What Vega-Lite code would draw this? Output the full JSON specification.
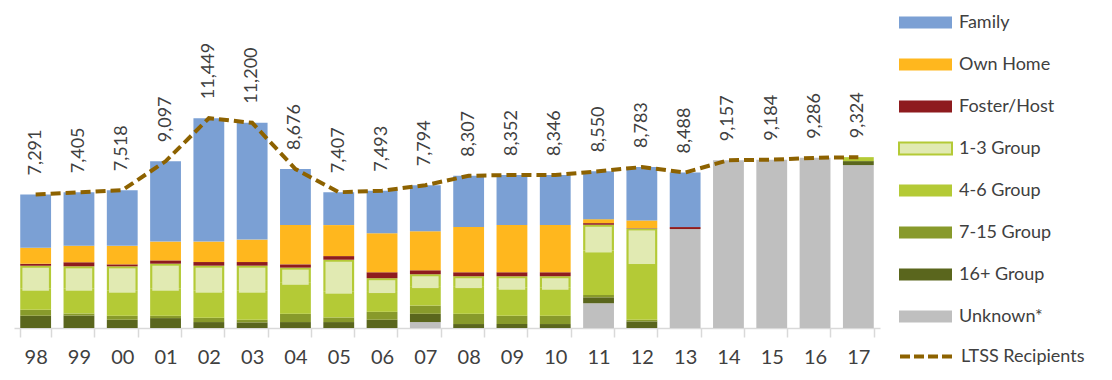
{
  "$schema": "https://vega.github.io/schema/vega-lite/v6.json",
  "width": 866,
  "height": 328,
  "autosize": "none",
  "padding": {"left": 14, "top": 0, "right": 232, "bottom": 52},
  "background": "white",
  "config": {"view": {"stroke": null}, "font": "Lato"},
  "datasets": {
    "bars": [
      {"year": "98", "category": "16+ Group", "value": 666},
      {"year": "98", "category": "7-15 Group", "value": 324},
      {"year": "98", "category": "4-6 Group", "value": 1152},
      {"year": "98", "category": "1-3 Group", "value": 1260},
      {"year": "98", "category": "Foster/Host", "value": 108},
      {"year": "98", "category": "Own Home", "value": 864},
      {"year": "98", "category": "Family", "value": 2917},
      {"year": "99", "category": "16+ Group", "value": 684},
      {"year": "99", "category": "7-15 Group", "value": 108},
      {"year": "99", "category": "4-6 Group", "value": 1350},
      {"year": "99", "category": "1-3 Group", "value": 1224},
      {"year": "99", "category": "Foster/Host", "value": 216},
      {"year": "99", "category": "Own Home", "value": 900},
      {"year": "99", "category": "Family", "value": 2923},
      {"year": "00", "category": "16+ Group", "value": 450},
      {"year": "00", "category": "7-15 Group", "value": 216},
      {"year": "00", "category": "4-6 Group", "value": 1368},
      {"year": "00", "category": "1-3 Group", "value": 1332},
      {"year": "00", "category": "Foster/Host", "value": 108},
      {"year": "00", "category": "Own Home", "value": 1008},
      {"year": "00", "category": "Family", "value": 3036},
      {"year": "01", "category": "16+ Group", "value": 540},
      {"year": "01", "category": "7-15 Group", "value": 126},
      {"year": "01", "category": "4-6 Group", "value": 1476},
      {"year": "01", "category": "1-3 Group", "value": 1368},
      {"year": "01", "category": "Foster/Host", "value": 180},
      {"year": "01", "category": "Own Home", "value": 1026},
      {"year": "01", "category": "Family", "value": 4381},
      {"year": "02", "category": "16+ Group", "value": 324},
      {"year": "02", "category": "7-15 Group", "value": 234},
      {"year": "02", "category": "4-6 Group", "value": 1476},
      {"year": "02", "category": "1-3 Group", "value": 1368},
      {"year": "02", "category": "Foster/Host", "value": 198},
      {"year": "02", "category": "Own Home", "value": 1116},
      {"year": "02", "category": "Family", "value": 6733},
      {"year": "03", "category": "16+ Group", "value": 306},
      {"year": "03", "category": "7-15 Group", "value": 144},
      {"year": "03", "category": "4-6 Group", "value": 1584},
      {"year": "03", "category": "1-3 Group", "value": 1368},
      {"year": "03", "category": "Foster/Host", "value": 198},
      {"year": "03", "category": "Own Home", "value": 1224},
      {"year": "03", "category": "Family", "value": 6376},
      {"year": "04", "category": "16+ Group", "value": 324},
      {"year": "04", "category": "7-15 Group", "value": 450},
      {"year": "04", "category": "4-6 Group", "value": 1692},
      {"year": "04", "category": "1-3 Group", "value": 828},
      {"year": "04", "category": "Foster/Host", "value": 180},
      {"year": "04", "category": "Own Home", "value": 2142},
      {"year": "04", "category": "Family", "value": 3060},
      {"year": "05", "category": "16+ Group", "value": 324},
      {"year": "05", "category": "7-15 Group", "value": 252},
      {"year": "05", "category": "4-6 Group", "value": 1404},
      {"year": "05", "category": "1-3 Group", "value": 1746},
      {"year": "05", "category": "Foster/Host", "value": 198},
      {"year": "05", "category": "Own Home", "value": 1692},
      {"year": "05", "category": "Family", "value": 1791},
      {"year": "06", "category": "16+ Group", "value": 450},
      {"year": "06", "category": "7-15 Group", "value": 432},
      {"year": "06", "category": "4-6 Group", "value": 1134},
      {"year": "06", "category": "1-3 Group", "value": 702},
      {"year": "06", "category": "Foster/Host", "value": 324},
      {"year": "06", "category": "Own Home", "value": 2124},
      {"year": "06", "category": "Family", "value": 2327},
      {"year": "07", "category": "Unknown*", "value": 324},
      {"year": "07", "category": "16+ Group", "value": 450},
      {"year": "07", "category": "7-15 Group", "value": 450},
      {"year": "07", "category": "4-6 Group", "value": 1062},
      {"year": "07", "category": "1-3 Group", "value": 648},
      {"year": "07", "category": "Foster/Host", "value": 216},
      {"year": "07", "category": "Own Home", "value": 2124},
      {"year": "07", "category": "Family", "value": 2520},
      {"year": "08", "category": "16+ Group", "value": 216},
      {"year": "08", "category": "7-15 Group", "value": 558},
      {"year": "08", "category": "4-6 Group", "value": 1512},
      {"year": "08", "category": "1-3 Group", "value": 540},
      {"year": "08", "category": "Foster/Host", "value": 216},
      {"year": "08", "category": "Own Home", "value": 2466},
      {"year": "08", "category": "Family", "value": 2799},
      {"year": "09", "category": "16+ Group", "value": 216},
      {"year": "09", "category": "7-15 Group", "value": 450},
      {"year": "09", "category": "4-6 Group", "value": 1530},
      {"year": "09", "category": "1-3 Group", "value": 630},
      {"year": "09", "category": "Foster/Host", "value": 216},
      {"year": "09", "category": "Own Home", "value": 2574},
      {"year": "09", "category": "Family", "value": 2736},
      {"year": "10", "category": "16+ Group", "value": 216},
      {"year": "10", "category": "7-15 Group", "value": 450},
      {"year": "10", "category": "4-6 Group", "value": 1530},
      {"year": "10", "category": "1-3 Group", "value": 630},
      {"year": "10", "category": "Foster/Host", "value": 216},
      {"year": "10", "category": "Own Home", "value": 2574},
      {"year": "10", "category": "Family", "value": 2730},
      {"year": "11", "category": "Unknown*", "value": 1350},
      {"year": "11", "category": "16+ Group", "value": 324},
      {"year": "11", "category": "7-15 Group", "value": 126},
      {"year": "11", "category": "4-6 Group", "value": 2430},
      {"year": "11", "category": "1-3 Group", "value": 1404},
      {"year": "11", "category": "Foster/Host", "value": 90},
      {"year": "11", "category": "Own Home", "value": 216},
      {"year": "11", "category": "Family", "value": 2610},
      {"year": "12", "category": "16+ Group", "value": 360},
      {"year": "12", "category": "7-15 Group", "value": 90},
      {"year": "12", "category": "4-6 Group", "value": 3150},
      {"year": "12", "category": "1-3 Group", "value": 1836},
      {"year": "12", "category": "Foster/Host", "value": 20},
      {"year": "12", "category": "Own Home", "value": 414},
      {"year": "12", "category": "Family", "value": 2913},
      {"year": "13", "category": "Unknown*", "value": 5400},
      {"year": "13", "category": "Foster/Host", "value": 108},
      {"year": "13", "category": "Family", "value": 2980},
      {"year": "14", "category": "Unknown*", "value": 9157},
      {"year": "15", "category": "Unknown*", "value": 9184},
      {"year": "16", "category": "Unknown*", "value": 9286},
      {"year": "17", "category": "Unknown*", "value": 8892},
      {"year": "17", "category": "16+ Group", "value": 216},
      {"year": "17", "category": "4-6 Group", "value": 216}
    ],
    "totals": [
      {"year": "98", "total": 7291}, {"year": "99", "total": 7405}, {"year": "00", "total": 7518},
      {"year": "01", "total": 9097}, {"year": "02", "total": 11449}, {"year": "03", "total": 11200},
      {"year": "04", "total": 8676}, {"year": "05", "total": 7407}, {"year": "06", "total": 7493},
      {"year": "07", "total": 7794}, {"year": "08", "total": 8307}, {"year": "09", "total": 8352},
      {"year": "10", "total": 8346}, {"year": "11", "total": 8550}, {"year": "12", "total": 8783},
      {"year": "13", "total": 8488}, {"year": "14", "total": 9157}, {"year": "15", "total": 9184},
      {"year": "16", "total": 9286}, {"year": "17", "total": 9324}
    ]
  },
  "layer": [
    {
      "data": {"name": "bars"},
      "transform": [
        {"calculate": "indexof(['Unknown*', '16+ Group', '7-15 Group', '4-6 Group', '1-3 Group', 'Foster/Host', 'Own Home', 'Family'], datum.category)", "as": "stackOrder"}
      ],
      "mark": {"type": "bar"},
      "encoding": {
        "x": {
          "field": "year", "type": "nominal",
          "scale": {"domain": ["98","99","00","01","02","03","04","05","06","07","08","09","10","11","12","13","14","15","16","17"], "paddingInner": 0.288, "paddingOuter": 0.144},
          "axis": {"title": null, "labelAngle": 0, "labelFontSize": 20, "labelColor": "#404040", "domainColor": "#D9D9D9", "domainWidth": 1.5, "tickColor": "#D9D9D9", "tickWidth": 1.5, "tickBand": "extent", "tickSize": 9, "labelPadding": 10}
        },
        "y": {"field": "value", "type": "quantitative", "stack": "zero", "scale": {"domain": [0, 17900], "nice": false}, "axis": null},
        "order": {"field": "stackOrder", "type": "quantitative", "sort": "ascending"},
        "color": {
          "condition": {"test": "datum.category === '1-3 Group'", "value": "#B4CA36"},
          "field": "category", "type": "nominal",
          "scale": {"domain": ["Family", "Own Home", "Foster/Host", "1-3 Group", "4-6 Group", "7-15 Group", "16+ Group", "Unknown*"],
                    "range": ["#7BA0D4", "#FFB71E", "#8E1B1E", "#E1EAB2", "#B4CA36", "#889A2B", "#5A661D", "#BFBFBF"]},
          "legend": {"title": null, "orient": "none", "legendX": 884, "legendY": -5, "symbolType": "M-1,-0.226H1V0.226H-1Z", "symbolSize": 2809, "symbolOpacity": 1, "labelFontSize": 18, "labelColor": "#404040", "labelOffset": 6, "rowPadding": 4, "labelLimit": 300,
                     "encode": {"symbols": {"update": {
                       "stroke": {"signal": "datum.value === '1-3 Group' ? '#B4CA36' : 'transparent'"},
                       "strokeWidth": {"value": 2}}}}}
        }
      }
    },
    {
      "data": {"name": "bars"},
      "transform": [
        {"calculate": "indexof(['Unknown*', '16+ Group', '7-15 Group', '4-6 Group', '1-3 Group', 'Foster/Host', 'Own Home', 'Family'], datum.category)", "as": "stackOrder"}
      ],
      "mark": {"type": "bar", "width": {"band": 0.86}, "yOffset": 2, "y2Offset": -2},
      "encoding": {
        "x": {"field": "year", "type": "nominal"},
        "y": {"field": "value", "type": "quantitative", "stack": "zero"},
        "order": {"field": "stackOrder", "type": "quantitative", "sort": "ascending"},
        "fill": {"condition": {"test": "datum.category === '1-3 Group'", "value": "#E1EAB2"}, "value": null}
      }
    },
    {
      "data": {"name": "totals"},
      "mark": {"type": "line", "strokeDash": [10, 5], "strokeWidth": 4},
      "encoding": {
        "x": {"field": "year", "type": "nominal"},
        "y": {"field": "total", "type": "quantitative"},
        "stroke": {"datum": "LTSS Recipients", "scale": {"range": ["#8D6200"]},
                  "legend": {"title": null, "orient": "none", "legendX": 884, "legendY": 328, "symbolType": "stroke", "symbolSize": 2809, "symbolStrokeWidth": 4, "symbolDash": [10, 4], "labelFontSize": 18, "labelColor": "#404040", "labelOffset": 6, "labelLimit": 300}}
      }
    },
    {
      "data": {"name": "totals"},
      "mark": {"type": "text", "angle": 270, "align": "left", "baseline": "middle", "dx": 19, "fontSize": 18, "color": "#404040"},
      "encoding": {
        "x": {"field": "year", "type": "nominal"},
        "y": {"field": "total", "type": "quantitative"},
        "text": {"field": "total", "type": "quantitative", "format": ","}
      }
    }
  ]
}
